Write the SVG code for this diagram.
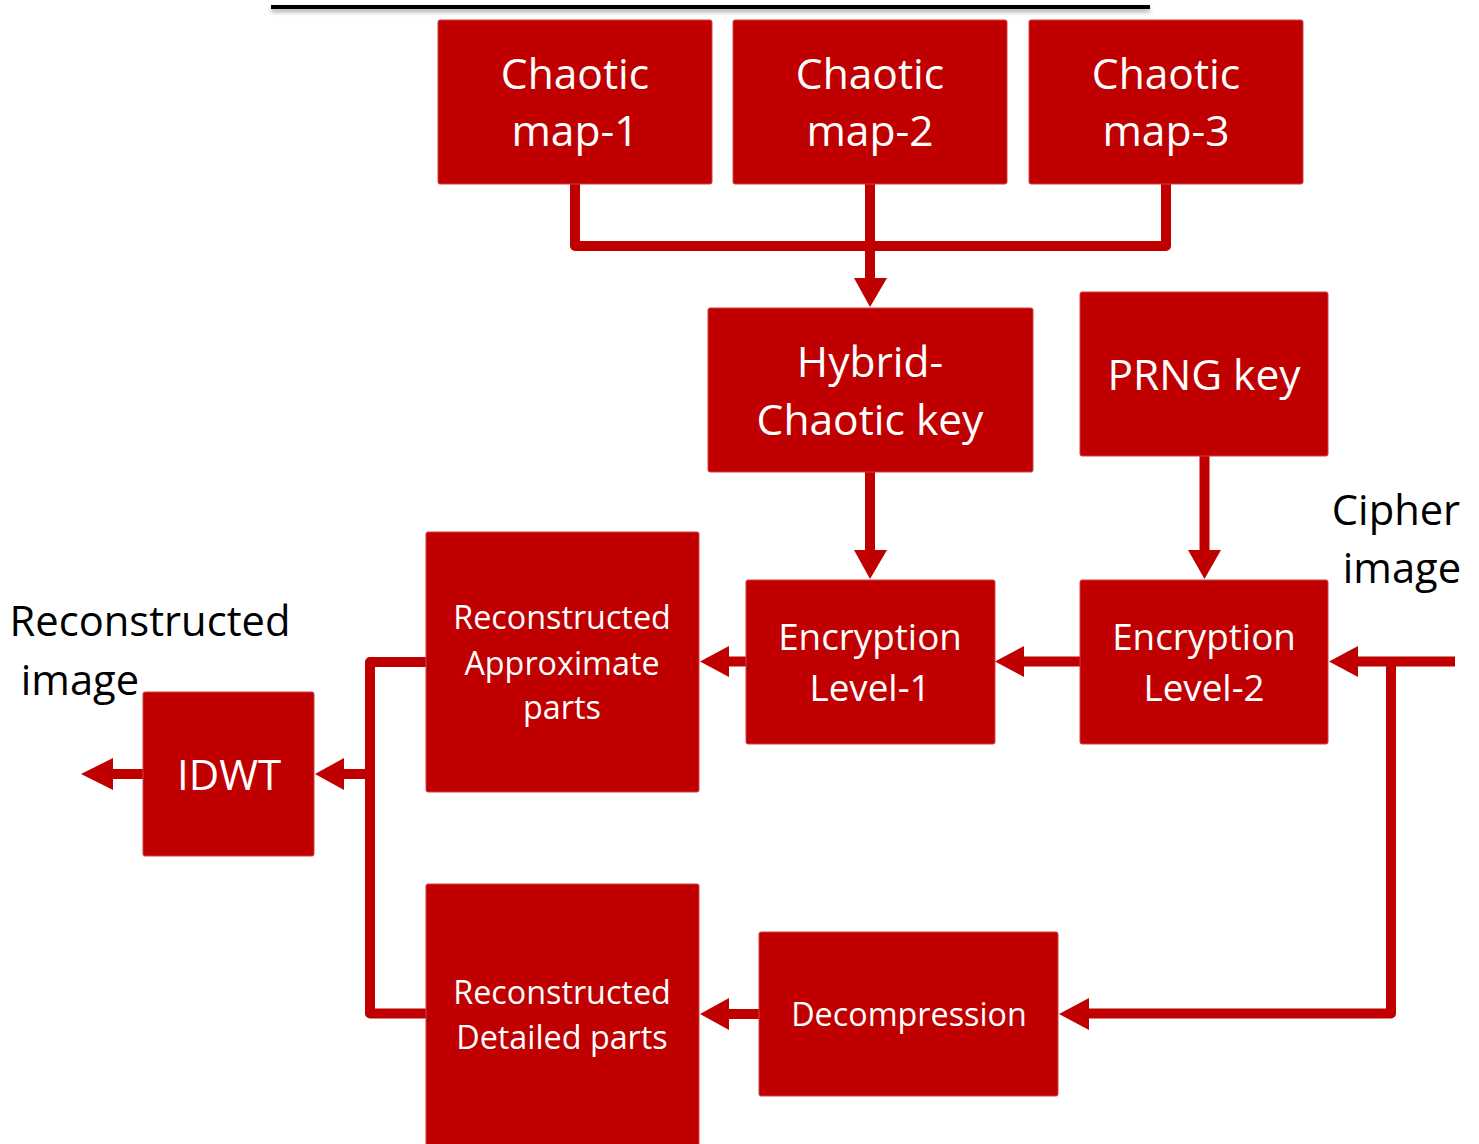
<svg xmlns="http://www.w3.org/2000/svg" width="1479" height="1144" viewBox="0 0 1479 1144">
  <defs>
    <style>
      .box { fill: #C00000; stroke: #d04040; stroke-width: 1; }
      .lbl { fill: #ffffff; font-family: "Open Sans", "Noto Sans", sans-serif; text-anchor: middle; }
      .ext { fill: #000000; font-family: "Open Sans", "Noto Sans", sans-serif; text-anchor: middle; }
      .wire { fill: none; stroke: #C00000; stroke-width: 10; stroke-linejoin: round; }
      .head { fill: #C00000; }
    </style>
    <filter id="shadow" filterUnits="userSpaceOnUse" x="250" y="0" width="920" height="30">
      <feGaussianBlur in="SourceAlpha" stdDeviation="2"/>
      <feOffset dy="3"/>
      <feComponentTransfer><feFuncA type="linear" slope="0.35"/></feComponentTransfer>
      <feMerge><feMergeNode/><feMergeNode in="SourceGraphic"/></feMerge>
    </filter>
  </defs>

  <!-- rule at the top -->
  <line x1="271" y1="7" x2="1150" y2="7" stroke="#000" stroke-width="4" filter="url(#shadow)"/>

  <!-- connectors -->
  <g id="connectors">
    <!-- chaotic maps merge into the hybrid key -->
    <path class="wire" d="M575 184 V246 H1166 V184"/>
    <path class="wire" d="M870 184 V278"/>
    <polygon class="head" points="854,278 887,278 870,307"/>
    <!-- hybrid key to level-1 -->
    <path class="wire" d="M870 472 V550"/>
    <polygon class="head" points="854,550 887,550 870,579"/>
    <!-- PRNG key to level-2 -->
    <path class="wire" d="M1204.5 456 V550"/>
    <polygon class="head" points="1188,550 1221,550 1204.5,579"/>
    <!-- cipher image input -->
    <path class="wire" d="M1455 661.5 H1358"/>
    <polygon class="head" points="1358,646 1358,677 1329,661.5"/>
    <path class="wire" d="M1391 661.5 V1013.5 H1089"/>
    <polygon class="head" points="1089,998 1089,1030 1059,1014"/>
    <!-- level-2 to level-1 -->
    <path class="wire" d="M1080 661.5 H1024"/>
    <polygon class="head" points="1024,646 1024,677 995,661.5"/>
    <!-- level-1 to approximate parts -->
    <path class="wire" d="M746 661.5 H729"/>
    <polygon class="head" points="729,646 729,677 700,661.5"/>
    <!-- decompression to detailed parts -->
    <path class="wire" d="M759 1014 H729"/>
    <polygon class="head" points="729,998 729,1030 700,1014"/>
    <!-- both parts join into IDWT -->
    <path class="wire" d="M426 662 H370 V1013.5 H426"/>
    <path class="wire" d="M370 774 H344"/>
    <polygon class="head" points="344,758 344,790 315,774"/>
    <!-- IDWT output -->
    <path class="wire" d="M143 774 H113"/>
    <polygon class="head" points="113,758 113,790 81,774"/>
  </g>

  <g id="map1">
    <rect class="box" x="438" y="20" width="274" height="164" rx="2"/>
    <text class="lbl" font-size="42.5" x="575" y="89">Chaotic</text>
    <text class="lbl" font-size="42.5" x="575" y="146">map-1</text>
  </g>
  <g id="map2">
    <rect class="box" x="733" y="20" width="274" height="164" rx="2"/>
    <text class="lbl" font-size="42.5" x="870" y="89">Chaotic</text>
    <text class="lbl" font-size="42.5" x="870" y="146">map-2</text>
  </g>
  <g id="map3">
    <rect class="box" x="1029" y="20" width="274" height="164" rx="2"/>
    <text class="lbl" font-size="42.5" x="1166" y="89">Chaotic</text>
    <text class="lbl" font-size="42.5" x="1166" y="146">map-3</text>
  </g>
  <g id="hybrid">
    <rect class="box" x="708" y="308" width="325" height="164" rx="2"/>
    <text class="lbl" font-size="42.5" x="870" y="377">Hybrid-</text>
    <text class="lbl" font-size="42.5" x="870" y="435">Chaotic key</text>
  </g>
  <g id="prng">
    <rect class="box" x="1080" y="292" width="248" height="164" rx="2"/>
    <text class="lbl" font-size="42.5" x="1204" y="390">PRNG key</text>
  </g>
  <g id="enc1">
    <rect class="box" x="746" y="580" width="249" height="164" rx="2"/>
    <text class="lbl" font-size="36.8" x="870" y="650">Encryption</text>
    <text class="lbl" font-size="36.8" x="870" y="701">Level-1</text>
  </g>
  <g id="enc2">
    <rect class="box" x="1080" y="580" width="248" height="164" rx="2"/>
    <text class="lbl" font-size="36.8" x="1204" y="650">Encryption</text>
    <text class="lbl" font-size="36.8" x="1204" y="701">Level-2</text>
  </g>
  <g id="approx">
    <rect class="box" x="426" y="532" width="273" height="260" rx="2"/>
    <text class="lbl" font-size="32.3" x="562" y="629">Reconstructed</text>
    <text class="lbl" font-size="32.3" x="562" y="675">Approximate</text>
    <text class="lbl" font-size="32.3" x="562" y="719">parts</text>
  </g>
  <g id="detailed">
    <rect class="box" x="426" y="884" width="273" height="265" rx="2"/>
    <text class="lbl" font-size="32.3" x="562" y="1004">Reconstructed</text>
    <text class="lbl" font-size="32.3" x="562" y="1049">Detailed parts</text>
  </g>
  <g id="decomp">
    <rect class="box" x="759" y="932" width="299" height="164" rx="2"/>
    <text class="lbl" font-size="32.3" x="909" y="1026">Decompression</text>
  </g>
  <g id="idwt">
    <rect class="box" x="143" y="692" width="171" height="164" rx="2"/>
    <text class="lbl" font-size="42" x="229" y="790">IDWT</text>
  </g>

  <!-- external labels -->
  <g id="cipher-label">
    <text class="ext" font-size="41.7" x="1396" y="525">Cipher</text>
    <text class="ext" font-size="41.7" x="1402" y="583">image</text>
  </g>
  <g id="output-label">
    <text class="ext" font-size="41.7" x="150" y="636">Reconstructed</text>
    <text class="ext" font-size="41.7" x="80" y="695">image</text>
  </g>
</svg>
